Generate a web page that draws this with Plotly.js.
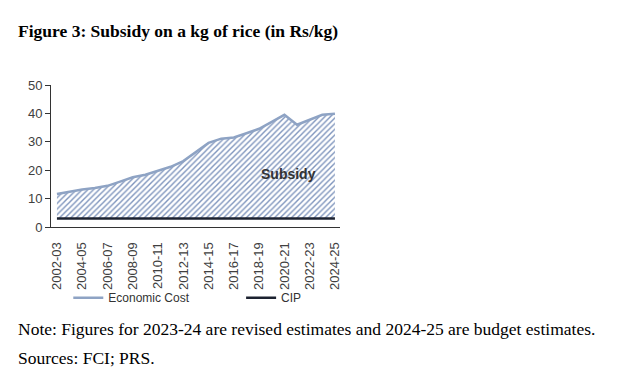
<!DOCTYPE html>
<html>
<head>
<meta charset="utf-8">
<script src="https://cdn.plot.ly/plotly-3.0.1.min.js"></script>
<style>
html,body{margin:0;padding:0;background:#fff;}
#chart{width:623px;height:380px;}
</style>
</head>
<body>
<div id="chart"></div>
<script>
const years = ["2002-03","2003-04","2004-05","2005-06","2006-07","2007-08","2008-09","2009-10","2010-11","2011-12","2012-13","2013-14","2014-15","2015-16","2016-17","2017-18","2018-19","2019-20","2020-21","2021-22","2022-23","2023-24","2024-25"];
const economicCost = [11.6,12.5,13.2,13.7,14.5,16.0,17.5,18.4,19.8,21.2,23.2,26.5,29.6,31.1,31.5,33.0,34.6,37.0,39.5,36.0,37.8,39.5,39.9];
const cip = [3,3,3,3,3,3,3,3,3,3,3,3,3,3,3,3,3,3,3,3,3,3,3];
const tickLabels = ["2002-03","2004-05","2006-07","2008-09","2010-11","2012-13","2014-15","2016-17","2018-19","2020-21","2022-23","2024-25"];

const idx = years.map((_, i) => i);
const tickIdx = tickLabels.map(t => years.indexOf(t));

const narrow = "Liberation Sans Narrow, Arial Narrow, Liberation Sans, Arial, sans-serif";
const serif = "Liberation Serif, Times New Roman, serif";

const traces = [
  {
    x: idx, y: cip, name: "CIP", type: "scatter", mode: "lines",
    line: {color: "#1c2230", width: 2.5}, legend: "legend2", hoverinfo: "skip"
  },
  {
    x: idx, y: economicCost, name: "Subsidy area", type: "scatter", mode: "lines",
    line: {color: "rgba(0,0,0,0)", width: 0}, fill: "tonexty",
    fillcolor: "rgba(0,0,0,0)",
    fillpattern: {shape: "/", fgcolor: "#7f95bd", bgcolor: "#ffffff", size: 4, solidity: 0.35},
    showlegend: false, hoverinfo: "skip"
  },
  {
    x: idx, y: economicCost, name: "Economic Cost", type: "scatter", mode: "lines",
    line: {color: "#8ea3c4", width: 2.5}, legend: "legend", hoverinfo: "skip"
  }
];

const L = 50.7, R = 340, T = 84.5, B = 227;
const W = R - L, H = B - T;
const px = x => (x - L) / W;
const py = y => (B - y) / H;

const legFont = {family: narrow, size: 12, color: "#333"};

const layout = {
  width: 623, height: 380,
  margin: {l: L, r: 623 - R, t: T, b: 380 - B, pad: 0},
  paper_bgcolor: "#fff", plot_bgcolor: "#fff",
  showlegend: true,
  xaxis: {
    range: [-0.47, 22.4], showgrid: false, zeroline: false,
    showline: true, linecolor: "#333", linewidth: 1,
    tickmode: "array", tickvals: tickIdx, ticktext: tickLabels,
    tickangle: -90, ticks: "outside", ticklen: 9, tickcolor: "rgba(0,0,0,0)",
    tickfont: {family: narrow, size: 13, color: "#404040"}
  },
  yaxis: {
    range: [0, 50], showgrid: false, zeroline: false,
    showline: true, linecolor: "#333", linewidth: 1,
    tickvals: [0,10,20,30,40,50], ticks: "outside", ticklen: 5, tickcolor: "#333", tickwidth: 1,
    ticksuffix: "\u00a0",
    tickfont: {family: narrow, size: 13, color: "#404040"}
  },
  legend: {
    orientation: "h", x: px(68), y: py(298), xanchor: "left", yanchor: "middle",
    font: legFont, bgcolor: "rgba(0,0,0,0)"
  },
  legend2: {
    orientation: "h", x: px(241), y: py(298), xanchor: "left", yanchor: "middle",
    font: legFont, bgcolor: "rgba(0,0,0,0)"
  },
  annotations: [
    {text: "<b>Figure 3: Subsidy on a kg of rice (in Rs/kg)</b>", xref: "paper", yref: "paper",
     x: px(16), y: py(30), xanchor: "left", yanchor: "middle", showarrow: false,
     font: {family: serif, size: 17.5, color: "#000"}},
    {text: "Note: Figures for 2023-24 are revised estimates and 2024-25 are budget estimates.", xref: "paper", yref: "paper",
     x: px(16), y: py(329), xanchor: "left", yanchor: "middle", showarrow: false,
     font: {family: serif, size: 17.5, color: "#000"}},
    {text: "Sources: FCI; PRS.", xref: "paper", yref: "paper",
     x: px(16), y: py(358), xanchor: "left", yanchor: "middle", showarrow: false,
     font: {family: serif, size: 17.5, color: "#000"}},
    {text: "<b>Subsidy</b>", xref: "x", yref: "y", x: 18.3, y: 18.6,
     xanchor: "center", yanchor: "middle", showarrow: false,
     font: {family: "Liberation Sans, Arial, sans-serif", size: 14, color: "#333"}}
  ]
};

Plotly.newPlot("chart", traces, layout, {displayModeBar: false, staticPlot: true});
</script>
</body>
</html>
